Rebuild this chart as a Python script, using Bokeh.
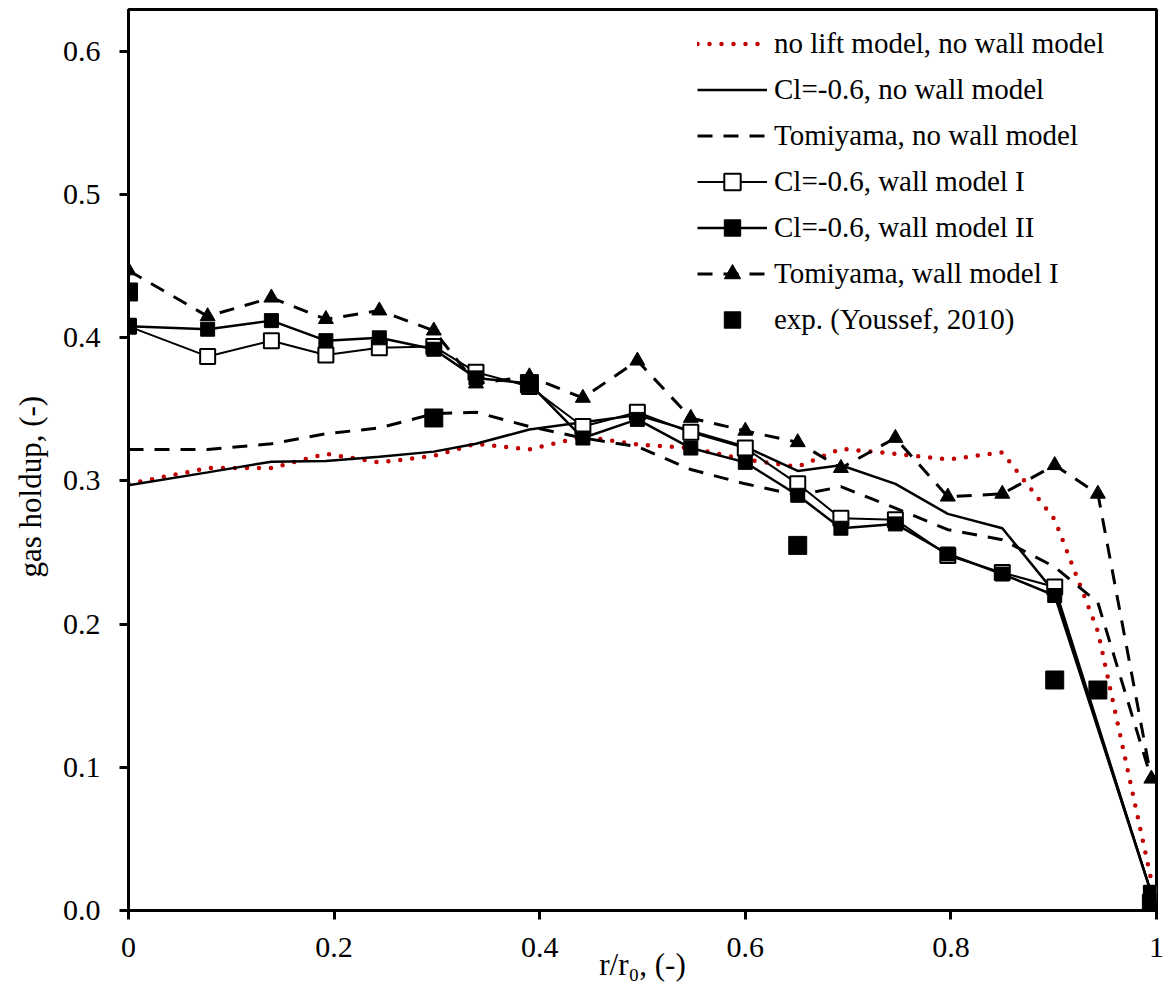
from bokeh.plotting import figure
from bokeh.models import Range1d, Legend, LegendItem, FixedTicker, NumeralTickFormatter, Title
from bokeh.embed import file_html
from bokeh.resources import INLINE

# ---------------- data ----------------
r_full = [0.0, 0.077, 0.139, 0.192, 0.244, 0.297, 0.338, 0.390, 0.442, 0.495,
          0.547, 0.600, 0.651, 0.693, 0.746, 0.797, 0.850, 0.901, 0.943, 0.995]
r_cl = [0.0, 0.077, 0.139, 0.192, 0.244, 0.297, 0.338, 0.390, 0.442, 0.495,
        0.547, 0.600, 0.651, 0.693, 0.746, 0.797, 0.850, 0.901, 0.995]

no_lift_no_wall = [0.298, 0.309, 0.309, 0.319, 0.313, 0.3175, 0.326, 0.322, 0.331, 0.3255,
                   0.323, 0.315, 0.310, 0.3225, 0.319, 0.315, 0.320, 0.273, 0.195, 0.021]
cl_no_wall = [0.297, 0.306, 0.3135, 0.314, 0.317, 0.3205, 0.326, 0.336, 0.341, 0.346,
              0.335, 0.324, 0.307, 0.311, 0.298, 0.277, 0.267, 0.222, 0.012]
tomiyama_no_wall = [0.322, 0.322, 0.326, 0.333, 0.337, 0.347, 0.348, 0.338, 0.330, 0.324,
                    0.308, 0.298, 0.290, 0.296, 0.281, 0.266, 0.259, 0.240, 0.215, 0.092]
cl_wall_I = [0.408, 0.387, 0.398, 0.388, 0.393, 0.394, 0.376, 0.366, 0.338, 0.348,
             0.334, 0.323, 0.298, 0.274, 0.273, 0.248, 0.236, 0.226, 0.012]
cl_wall_II = [0.408, 0.406, 0.412, 0.398, 0.400, 0.392, 0.372, 0.368, 0.330, 0.343,
              0.323, 0.313, 0.290, 0.267, 0.270, 0.249, 0.235, 0.220, 0.012]
tomiyama_wall_I = [0.447, 0.415, 0.428, 0.413, 0.419, 0.405, 0.368, 0.373, 0.358, 0.384,
                   0.344, 0.335, 0.327, 0.309, 0.330, 0.289, 0.291, 0.311, 0.291, 0.092]
r_exp = [0.0, 0.297, 0.390, 0.651, 0.901, 0.943, 0.995]
exp_youssef = [0.432, 0.344, 0.368, 0.255, 0.161, 0.154, 0.005]

x_ticks = [0, 0.2, 0.4, 0.6, 0.8, 1.0]
y_ticks = [0.0, 0.1, 0.2, 0.3, 0.4, 0.5, 0.6]

FONT = "Liberation Serif"
RED = "#C00000"

p = figure(width=1165, height=992, x_range=Range1d(0, 1), y_range=Range1d(0, 0.6293),
           output_backend="svg", toolbar_location=None,
           min_border_left=127, min_border_right=9, min_border_top=9, min_border_bottom=82)
p.xgrid.visible = False
p.ygrid.visible = False
p.outline_line_color = "black"
p.outline_line_width = 3
p.outline_line_alpha = 1
p.background_fill_color = "white"
p.border_fill_color = "white"

for ax in (p.xaxis[0], p.yaxis[0]):
    ax.axis_line_width = 3
    ax.axis_line_color = "black"
    ax.major_tick_line_width = 3
    ax.major_tick_line_color = "black"
    ax.major_tick_in = 0
    ax.major_tick_out = 9
    ax.minor_tick_line_color = None
    ax.major_label_text_font = FONT
    ax.major_label_text_font_size = "30px"
    ax.major_label_text_color = "black"

p.xaxis.ticker = FixedTicker(ticks=x_ticks)
p.yaxis.ticker = FixedTicker(ticks=y_ticks)
p.xaxis.formatter = NumeralTickFormatter(format="0.[0]")
p.yaxis.formatter = NumeralTickFormatter(format="0.0")
p.xaxis.major_label_standoff = 18
p.yaxis.major_label_standoff = 19

p.xaxis.axis_label = "r/r\u2080, (-)"
p.xaxis.axis_label_text_font = FONT
p.xaxis.axis_label_text_font_size = "31px"
p.xaxis.axis_label_text_font_style = "normal"
p.xaxis.axis_label_text_color = "black"
p.xaxis.axis_label_standoff = -13

ytitle = Title(text="gas holdup, (-)", align="left", offset=333, standoff=22,
               vertical_align="middle",
               text_font=FONT, text_font_size="31px", text_font_style="normal",
               text_color="black")
p.add_layout(ytitle, "left")

# ---------------- series ----------------
r_nl = p.line(r_full, no_lift_no_wall, line_color=RED, line_width=4.5, line_dash="0 12", line_cap="round")
r_cnw = p.line(r_cl, cl_no_wall, line_color="black", line_width=2.5)
r_tnw = p.line(r_full, tomiyama_no_wall, line_color="black", line_width=3, line_dash="15 11")

l_w1 = p.line(r_cl, cl_wall_I, line_color="black", line_width=2)
m_w1 = p.scatter(r_cl, cl_wall_I, marker="square", size=15, fill_color="white", line_color="black", line_width=2)

l_w2 = p.line(r_cl, cl_wall_II, line_color="black", line_width=2.5)
m_w2 = p.scatter(r_cl, cl_wall_II, marker="square", size=14, fill_color="black", line_color="black", line_width=1)

l_tw1 = p.line(r_full, tomiyama_wall_I, line_color="black", line_width=3, line_dash="15 11")
m_tw1 = p.scatter(r_full, tomiyama_wall_I, marker="triangle", size=15, fill_color="black", line_color="black", line_width=1)

m_exp = p.scatter(r_exp, exp_youssef, marker="square", size=18, fill_color="black", line_color="black", line_width=1)

items = [
    LegendItem(label="no lift model, no wall model", renderers=[r_nl]),
    LegendItem(label="Cl=-0.6, no wall model", renderers=[r_cnw]),
    LegendItem(label="Tomiyama, no wall model", renderers=[r_tnw]),
    LegendItem(label="Cl=-0.6, wall model I", renderers=[l_w1, m_w1]),
    LegendItem(label="Cl=-0.6, wall model II", renderers=[l_w2, m_w2]),
    LegendItem(label="Tomiyama, wall model I", renderers=[l_tw1, m_tw1]),
    LegendItem(label="exp. (Youssef, 2010)", renderers=[m_exp]),
]
legend = Legend(items=items, location=(569, 570), padding=4, spacing=5,
                glyph_width=70, glyph_height=41, label_height=41, label_standoff=7,
                label_text_font=FONT, label_text_font_size="29px", label_text_color="black",
                border_line_color=None, background_fill_alpha=0, margin=0)
p.add_layout(legend)

open("out.html", "w").write(file_html(p, INLINE))
